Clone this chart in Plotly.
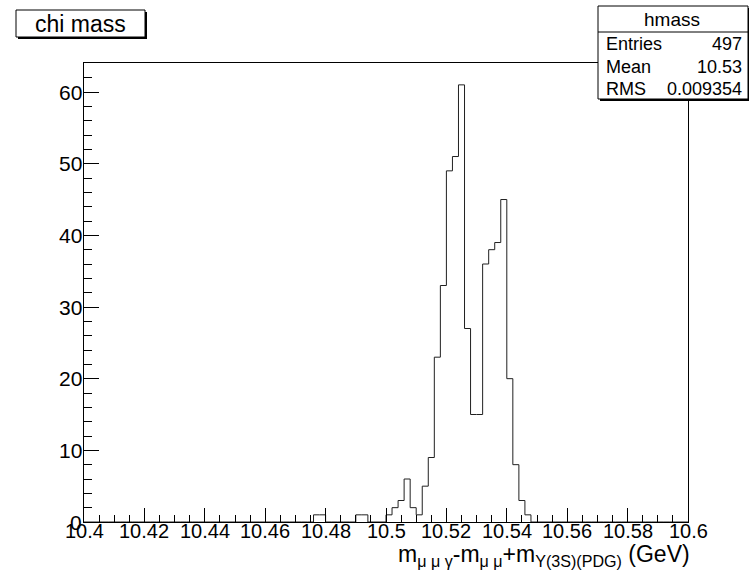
import numpy as np
import plotly.graph_objects as go

# Histogram definition: 100 bins on [10.4, 10.6]
hist_name = "hmass"
hist_title = "chi mass"
x_lo, x_hi, n_bins = 10.4, 10.6, 100

# Non-empty bins (bin index -> entries)
filled_bins = [38, 39, 45, 46, 50, 51, 52, 53, 54, 55, 56, 57, 58, 59, 60, 61,
               62, 63, 64, 65, 66, 67, 68, 69, 70, 71, 72, 73]
filled_counts = [1, 1, 1, 1, 1, 2, 3, 6, 2, 1, 5, 9, 23, 33, 49, 51,
                 61, 27, 15, 15, 36, 38, 39, 45, 20, 8, 3, 1]

stat_labels = ["Entries", "Mean", "RMS"]
stat_values = ["497", "10.53", "0.009354"]

x_tick_vals = [10.4, 10.42, 10.44, 10.46, 10.48, 10.5, 10.52, 10.54, 10.56, 10.58, 10.6]
x_tick_text = ["10.4", "10.42", "10.44", "10.46", "10.48", "10.5", "10.52", "10.54", "10.56", "10.58", "10.6"]
y_tick_vals = [0, 10, 20, 30, 40, 50, 60]
y_tick_text = ["0", "10", "20", "30", "40", "50", "60"]

x_title = "m<sub>μ μ γ</sub>-m<sub>μ μ</sub>+m<sub>Υ(3S)(PDG)</sub> (GeV)"

counts = np.zeros(n_bins)
counts[filled_bins] = filled_counts
edges = np.linspace(x_lo, x_hi, n_bins + 1)
y_max = counts.max() * 1.05

# step outline: repeat last value so the final bin closes at the upper edge
step_x = edges
step_y = np.append(counts, counts[-1])

FONT = "Liberation Sans, Arial, Helvetica, sans-serif"
W, H = 749, 574
ML, MR, MT, MB = 84, 61, 63, 52
PW, PH = W - ML - MR, H - MT - MB


def px(x):
    return (x - ML) / PW


def py(y):
    return (H - MB - y) / PH


fig = go.Figure()
fig.add_trace(go.Scatter(
    x=step_x, y=step_y, mode="lines", line=dict(shape="hv", color="#202020", width=1),
    hoverinfo="skip", showlegend=False,
))

axis_common = dict(
    showgrid=False, zeroline=False, showline=True, linecolor="black", linewidth=1,
    mirror=True, ticks="inside", tickcolor="black", tickwidth=1, showticklabels=False,
)

fig.update_xaxes(
    range=[x_lo, x_hi], tickmode="array", tickvals=x_tick_vals, ticklen=14,
    minor=dict(dtick=0.005, tick0=x_lo, ticks="inside", ticklen=7, tickcolor="black"),
    **axis_common,
)
fig.update_yaxes(
    range=[0, y_max], tickmode="array", tickvals=y_tick_vals, ticklen=15,
    minor=dict(dtick=2, tick0=0, ticks="inside", ticklen=8, tickcolor="black"),
    **axis_common,
)

shapes = []
annotations = []

# axis tick labels
for v, t in zip(x_tick_vals, x_tick_text):
    annotations.append(dict(xref="x", yref="paper", x=v, y=py(531), text=t, showarrow=False,
                            xanchor="center", yanchor="middle",
                            font=dict(family=FONT, size=20, color="black")))
for v, t in zip(y_tick_vals, y_tick_text):
    annotations.append(dict(xref="paper", yref="y", x=px(84), y=v, text=t, showarrow=False,
                            xanchor="right", yanchor="middle",
                            font=dict(family=FONT, size=21, color="black")))

# title box with drop shadow
tb = (16, 10, 145, 37)
shapes.append(dict(type="rect", xref="paper", yref="paper",
                   x0=px(tb[0] + 2), x1=px(tb[2] + 2), y0=py(tb[3] + 2), y1=py(tb[1] + 2),
                   line=dict(width=0), fillcolor="black", layer="above"))
shapes.append(dict(type="rect", xref="paper", yref="paper",
                   x0=px(tb[0]), x1=px(tb[2]), y0=py(tb[3]), y1=py(tb[1]),
                   line=dict(width=1, color="black"), fillcolor="white", layer="above"))
annotations.append(dict(xref="paper", yref="paper", x=px((tb[0] + tb[2]) / 2), y=py((tb[1] + tb[3]) / 2),
                        text=hist_title, showarrow=False, xanchor="center", yanchor="middle",
                        font=dict(family=FONT, size=23, color="black")))

# statistics box
sb = (598, 6, 748, 99)
shapes.append(dict(type="rect", xref="paper", yref="paper",
                   x0=px(sb[0] + 2), x1=px(sb[2] + 2), y0=py(sb[3] + 2), y1=py(sb[1] + 2),
                   line=dict(width=0), fillcolor="black", layer="above"))
shapes.append(dict(type="rect", xref="paper", yref="paper",
                   x0=px(sb[0]), x1=px(sb[2]), y0=py(sb[3]), y1=py(sb[1]),
                   line=dict(width=1, color="black"), fillcolor="white", layer="above"))
shapes.append(dict(type="line", xref="paper", yref="paper",
                   x0=px(sb[0]), x1=px(sb[2]), y0=py(32), y1=py(32),
                   line=dict(width=1, color="black"), layer="above"))
annotations.append(dict(xref="paper", yref="paper", x=px(672), y=py(19),
                        text=hist_name, showarrow=False, xanchor="center", yanchor="middle",
                        font=dict(family=FONT, size=19, color="black")))
for i, (lab, val) in enumerate(zip(stat_labels, stat_values)):
    yy = 44 + i * 22.5
    annotations.append(dict(xref="paper", yref="paper", x=px(604), y=py(yy),
                            text=lab, showarrow=False, xanchor="left", yanchor="middle",
                            font=dict(family=FONT, size=18, color="black")))
    annotations.append(dict(xref="paper", yref="paper", x=px(744), y=py(yy),
                            text=val, showarrow=False, xanchor="right", yanchor="middle",
                            font=dict(family=FONT, size=18, color="black")))

# x-axis title, right-aligned to the end of the axis
annotations.append(dict(xref="paper", yref="paper", x=px(692), y=py(539),
                        text=x_title, showarrow=False, xanchor="right", yanchor="top",
                        font=dict(family=FONT, size=23, color="black")))

fig.update_layout(
    width=W, height=H, margin=dict(l=ML, r=MR, t=MT, b=MB, pad=0),
    paper_bgcolor="white", plot_bgcolor="white",
    shapes=shapes, annotations=annotations, showlegend=False,
)

fig.write_html("out.html", config={"displayModeBar": False})
